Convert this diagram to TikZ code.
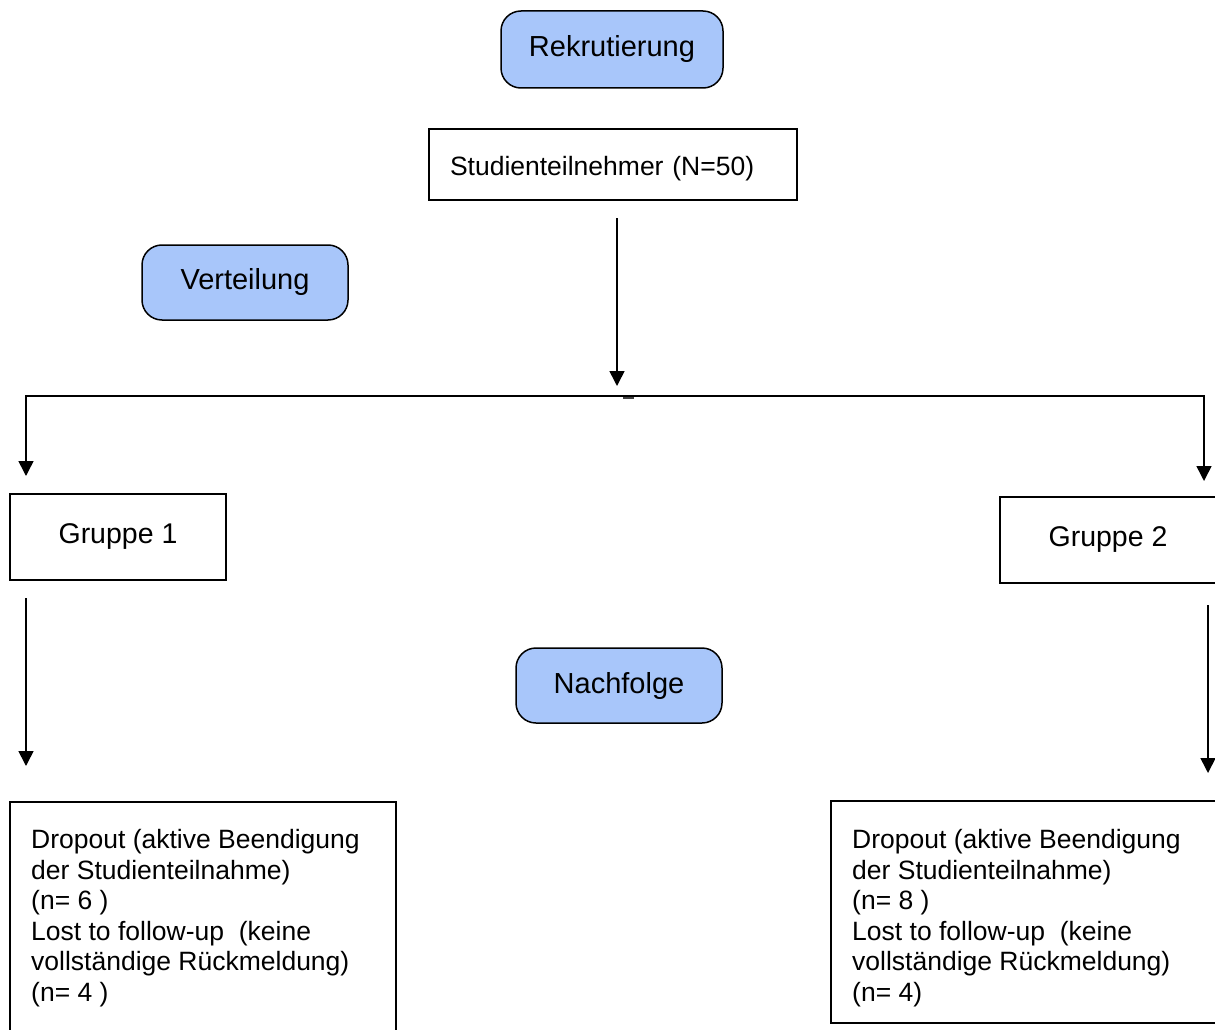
\documentclass[tikz,border=0pt]{standalone}
\usepackage{fontspec}
\setmainfont{Liberation Sans}
\usetikzlibrary{arrows.meta}
\definecolor{boxblue}{RGB}{168,198,250}
\begin{document}
\begin{tikzpicture}[x=1pt,y=-1pt,
  stage/.style={draw=black, line width=1.5pt, fill=boxblue, rounded corners=20pt, inner sep=0pt, font=\fontsize{29}{34}\selectfont},
  plainbox/.style={draw=black, line width=1.5pt, inner sep=0pt},
  arr/.style={line width=1.6pt, line join=miter, -{Triangle[width=15pt,length=15pt]}},
  bodytext/.style={inner sep=0pt, align=left, font=\fontsize{26.5}{30.6}\selectfont}]
\useasboundingbox[fill=white] (0,0) rectangle (1215,1030);

\node[stage, minimum width=222pt, minimum height=77pt] (rek) at (612,49.5) {Rekrutierung};
\node[plainbox, text width=326pt, inner xsep=21pt, minimum height=71pt, align=left,
      text height=22pt, text depth=0pt,
      font=\fontsize{26.5}{30}\selectfont] (stud) at (613,164.5) {Studienteilnehmer (N=50)};
\node[stage, minimum width=206pt, minimum height=75pt] (vert) at (245,282.5) {Verteilung};

\coordinate (s1) at (617,218);
\coordinate (s2) at (617,386);
\draw[arr] (s1) -- (s2);

\coordinate (hc) at (617,396);
\coordinate (t1) at (26,476);
\coordinate (t2) at (1204,481);
\draw[arr] (hc) -| (t1);
\draw[arr] (hc) -| (t2);
\coordinate (m1) at (623,397.5);
\coordinate (m2) at (634,397.5);
\draw[line width=2pt, black!75] (m1) -- (m2);

\node[plainbox, minimum width=216pt, minimum height=86pt, font=\fontsize{28.5}{34}\selectfont] (g1) at (118,537) {Gruppe 1};
\node[plainbox, minimum width=216pt, minimum height=86pt, font=\fontsize{28.5}{34}\selectfont] (g2) at (1108,540) {Gruppe 2};

\coordinate (l1) at (26,598);
\coordinate (l2) at (26,766);
\draw[arr] (l1) -- (l2);
\coordinate (r1) at (1208,605);
\coordinate (r2) at (1208,773);
\draw[arr] (r1) -- (r2);

\node[stage, minimum width=206pt, minimum height=75pt] (nach) at (619,685.5) {Nachfolge};

\node[plainbox, minimum width=386pt, minimum height=243pt] (d1) at (203,923.5) {};
\node[plainbox, minimum width=394pt, minimum height=222pt] (d2) at (1028,912) {};

\node[bodytext, anchor=north west] (d1t) at (31,829) {Dropout (aktive Beendigung\\der Studienteilnahme)\\(n= 6 )\\Lost to follow-up\ \ (keine\\vollständige Rückmeldung)\\(n= 4 )};
\node[bodytext, anchor=north west] (d2t) at (852,829) {Dropout (aktive Beendigung\\der Studienteilnahme)\\(n= 8 )\\Lost to follow-up\ \ (keine\\vollständige Rückmeldung)\\(n= 4)};
\end{tikzpicture}
\end{document}
